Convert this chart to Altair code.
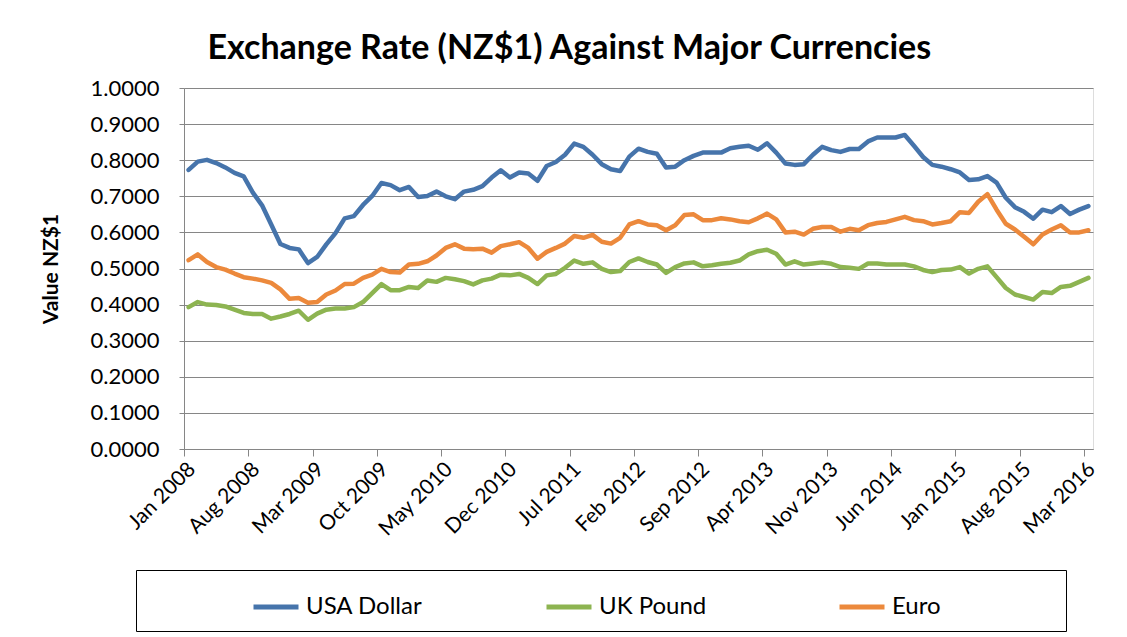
import json
import altair as alt
import pandas as pd

month_names = ["Jan", "Feb", "Mar", "Apr", "May", "Jun",
               "Jul", "Aug", "Sep", "Oct", "Nov", "Dec"]
years = [2008, 2009, 2010, 2011, 2012, 2013, 2014, 2015, 2016]

usd = [0.773, 0.796, 0.801, 0.792, 0.780, 0.765, 0.755, 0.710, 0.675, 0.622,
       0.568, 0.557, 0.553, 0.515, 0.532, 0.567, 0.598, 0.639, 0.645, 0.676,
       0.701, 0.737, 0.731, 0.717, 0.726, 0.698, 0.701, 0.713, 0.700, 0.692,
       0.713, 0.718, 0.728, 0.752, 0.772, 0.752, 0.766, 0.763, 0.743, 0.784,
       0.795, 0.815, 0.846, 0.837, 0.815, 0.789, 0.775, 0.770, 0.810, 0.832,
       0.823, 0.818, 0.780, 0.782, 0.800, 0.812, 0.821, 0.821, 0.821, 0.833,
       0.837, 0.840, 0.829, 0.847, 0.821, 0.791, 0.787, 0.789, 0.815, 0.837,
       0.828, 0.823, 0.831, 0.831, 0.852, 0.863, 0.863, 0.863, 0.870, 0.840,
       0.809, 0.787, 0.782, 0.775, 0.766, 0.745, 0.747, 0.756, 0.738, 0.696,
       0.670, 0.657, 0.638, 0.663, 0.656, 0.673, 0.651, 0.663, 0.673]

gbp = [0.393, 0.407, 0.400, 0.399, 0.395, 0.386, 0.377, 0.374, 0.374, 0.361,
       0.367, 0.374, 0.383, 0.358, 0.375, 0.386, 0.389, 0.389, 0.393, 0.407,
       0.432, 0.457, 0.440, 0.440, 0.449, 0.446, 0.467, 0.463, 0.474, 0.470,
       0.465, 0.456, 0.467, 0.472, 0.483, 0.481, 0.485, 0.474, 0.457, 0.481,
       0.485, 0.502, 0.522, 0.513, 0.517, 0.499, 0.490, 0.493, 0.518, 0.528,
       0.518, 0.511, 0.488, 0.504, 0.514, 0.517, 0.506, 0.509, 0.513, 0.516,
       0.522, 0.539, 0.548, 0.552, 0.541, 0.511, 0.520, 0.511, 0.514, 0.517,
       0.513, 0.504, 0.502, 0.499, 0.514, 0.514, 0.511, 0.511, 0.511, 0.506,
       0.496, 0.490, 0.496, 0.497, 0.504, 0.486, 0.499, 0.506, 0.476, 0.446,
       0.428, 0.421, 0.414, 0.435, 0.432, 0.449, 0.452, 0.463, 0.474]

eur = [0.523, 0.539, 0.518, 0.504, 0.497, 0.486, 0.476, 0.472, 0.467, 0.460,
       0.442, 0.416, 0.418, 0.405, 0.407, 0.428, 0.439, 0.457, 0.458, 0.474,
       0.483, 0.499, 0.490, 0.489, 0.511, 0.513, 0.520, 0.536, 0.557, 0.567,
       0.555, 0.553, 0.555, 0.544, 0.562, 0.567, 0.573, 0.557, 0.527, 0.546,
       0.557, 0.569, 0.590, 0.585, 0.593, 0.574, 0.569, 0.585, 0.622, 0.631,
       0.622, 0.620, 0.606, 0.620, 0.648, 0.650, 0.634, 0.634, 0.639, 0.636,
       0.631, 0.628, 0.639, 0.652, 0.636, 0.600, 0.602, 0.594, 0.610, 0.615,
       0.615, 0.602, 0.610, 0.606, 0.620, 0.626, 0.629, 0.636, 0.643, 0.634,
       0.631, 0.622, 0.626, 0.631, 0.656, 0.654, 0.685, 0.706, 0.663, 0.624,
       0.608, 0.588, 0.567, 0.594, 0.608, 0.620, 0.600, 0.600, 0.606]

tick_labels = ["Jan 2008", "Aug 2008", "Mar 2009", "Oct 2009", "May 2010",
               "Dec 2010", "Jul 2011", "Feb 2012", "Sep 2012", "Apr 2013",
               "Nov 2013", "Jun 2014", "Jan 2015", "Aug 2015", "Mar 2016"]

series_names = ["USA Dollar", "UK Pound", "Euro"]
series_colors = ["#4674ab", "#8db451", "#ec893c"]

months = [f"{m} {y}" for y in years for m in month_names][:len(usd)]

rows = []
for name, vals in zip(series_names, [usd, gbp, eur]):
    for i, v in enumerate(vals):
        rows.append({"idx": i, "month": months[i], "series": name, "value": v})
df = pd.DataFrame(rows)

FONT = "Lato"
GRID = "#868686"

tick_vals = [-0.5 + 7 * k for k in range(len(tick_labels))]
label_expr = f"{json.dumps(tick_labels)}[round((datum.value + 0.5) / 7)]"

ENTRY_SHIFT = 103

chart = alt.Chart(df).mark_line(
    strokeWidth=4.5, strokeJoin="round", strokeCap="round"
).encode(
    x=alt.X("idx:Q",
            scale=alt.Scale(domain=[-0.5, 98.5], nice=False, zero=False),
            axis=alt.Axis(values=tick_vals, labelExpr=label_expr, title=None,
                          grid=False, labelAngle=-45, labelFont=FONT,
                          labelFontSize=21, labelColor="black", labelPadding=2,
                          tickSize=7, tickColor=GRID, domainColor=GRID,
                          labelOverlap=False, labelFlush=False)),
    y=alt.Y("value:Q",
            scale=alt.Scale(domain=[0, 1], nice=False),
            axis=alt.Axis(values=[k / 10 for k in range(11)], format=".4f",
                          title="Value NZ$1", titleFont=FONT, titleFontSize=21,
                          titleFontWeight="bold", titleColor="black",
                          titlePadding=29, labelFont=FONT, labelFontSize=22,
                          labelColor="black", labelPadding=20, tickSize=5,
                          tickColor=GRID, domainColor=GRID, gridColor=GRID,
                          gridWidth=1.2)),
    color=alt.Color("series:N",
                    scale=alt.Scale(domain=series_names, range=series_colors),
                    sort=series_names,
                    legend=alt.Legend(
                        title="\u00a0", titleOrient="right", titleFontSize=4,
                        titlePadding=113, orient="none", legendX=-48, legendY=482,
                        direction="horizontal", gridAlign="all",
                        columnPadding=18, symbolType="stroke",
                        symbolOffset=ENTRY_SHIFT,
                        symbolStrokeWidth=5, symbolSize=2025, labelFont=FONT,
                        labelFontSize=24, labelColor="black",
                        labelOffset=5, labelLimit=400,
                        padding=12, strokeColor="black", fillColor="white",
                        cornerRadius=0)),
    order="idx:Q",
).properties(
    width=909,
    height=361,
    title=alt.TitleParams("Exchange Rate (NZ$1) Against Major Currencies",
                          font=FONT, fontSize=34, fontWeight="bold",
                          color="black", anchor="middle", frame="bounds",
                          offset=11),
    padding={"left": 32, "top": 24, "right": 5, "bottom": 0},
).configure_view(
    fill="#b9cde5", stroke="transparent"
).configure(background="white")

chart.save("out.html", embed_options={"renderer": "svg", "actions": False})
